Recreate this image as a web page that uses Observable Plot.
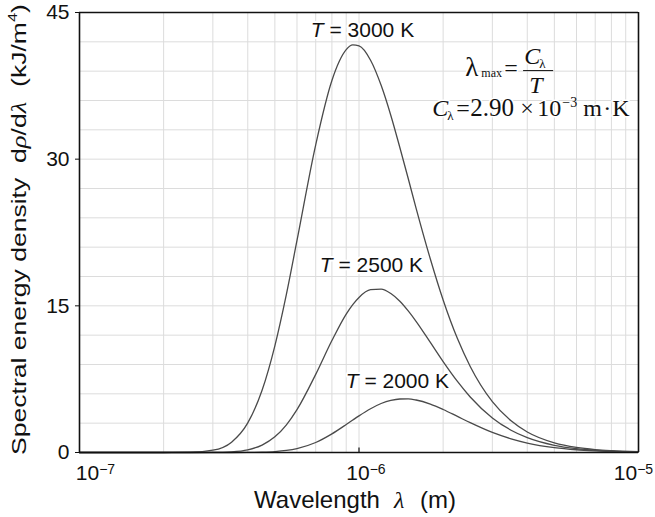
<!DOCTYPE html>
<html>
<head>
<meta charset="utf-8">
<script src="https://cdn.jsdelivr.net/npm/d3@7"></script>
<script src="https://cdn.jsdelivr.net/npm/@observablehq/plot@0.6"></script>
<style>
  body { margin: 0; background: #fff; }
  #chart svg { display: block; }
</style>
</head>
<body>
<div id="chart"></div>
<script>
// Wavelengths in micrometres
const wavelengthsMicron = [0.1, 0.2, 0.25, 0.3, 0.35, 0.4, 0.45, 0.5, 0.55, 0.6, 0.7, 0.8, 0.9, 0.95, 1.0,
  1.1, 1.2, 1.3, 1.4, 1.5, 1.6, 1.8, 2.0, 2.25, 2.5, 3.0, 3.5, 4.0, 5.0, 6.0, 7.0, 8.0, 10.0];

// Spectral energy density dρ/dλ in kJ/m^4
const density3000 = [0, 0.001, 0.024, 0.234, 1.06, 3.03, 6.36, 10.91, 16.20, 21.69, 31.47, 38.05, 41.20, 41.68, 41.59,
  40.12, 37.55, 34.47, 31.19, 28.02, 25.00, 19.79, 15.60, 11.65, 8.80, 5.20, 3.24, 2.10, 0.99, 0.52, 0.30, 0.19, 0.08];
const density2500 = [0, 0, 0.0005, 0.0096, 0.069, 0.27, 0.76, 1.60, 2.83, 4.38, 7.99, 11.45, 14.16, 15.13, 15.86,
  16.65, 16.71, 16.26, 15.47, 14.48, 13.42, 11.26, 9.30, 7.27, 5.68, 3.54, 2.28, 1.52, 0.74, 0.40, 0.23, 0.14, 0.06];
const density2000 = [0, 0, 0, 0.0001, 0.001, 0.0075, 0.031, 0.090, 0.207, 0.398, 1.02, 1.90, 2.86, 3.32, 3.75,
  4.48, 5.01, 5.33, 5.47, 5.48, 5.37, 4.95, 4.40, 3.69, 3.05, 2.05, 1.40, 0.97, 0.50, 0.28, 0.17, 0.10, 0.05];

const temperatures = [3000, 2500, 2000];
const curveLabels = ["T = 3000 K", "T = 2500 K", "T = 2000 K"];
const yTicks = [0, 15, 30, 45];
const xTicks = [1e-7, 1e-6, 1e-5];
const xTickLabels = ["10^−7", "10^−6", "10^−5"];

const ink = "#111";
const curveInk = "#4a4a4a";
const gridInk = "#dcdcdc";
const sans = "'Liberation Sans', Arial, sans-serif";
const serif = "'Liberation Serif', 'Times New Roman', serif";

const rows = [density3000, density2500, density2000].flatMap((values, k) =>
  values.map((u, i) => ({lambda: wavelengthsMicron[i] * 1e-6, u, T: temperatures[k]})));

// log grid: 1..9 × each decade, every 3 kJ/m^4 vertically
const xGrid = [-7, -6].flatMap(e => d3.range(1, 10).map(m => m * 10 ** e)).filter(v => v > 1e-7);
const yGrid = d3.range(3, 45, 3);

// horizontal nudges of the decade labels
const xLabelShift = [16, 7, -5];

// Wien's law block, anchored at the baseline of its second line;
// full-size glyphs get a thin white halo, sub/superscripts none
const formulaAt = [{x: 1.83e-6, y: 34.46}];
const formulaPieces = [
  {t: "λ", dx: 33, dy: -40, size: 27},
  {t: "=", dx: 72, dy: -40, size: 24},
  {t: "C", dx: 92, dy: -52, size: 24, italic: true},
  {t: "T", dx: 97, dy: -23, size: 24, italic: true},
  {t: "C", dx: 0, dy: 0, size: 24, italic: true},
  {t: "=", dx: 24, dy: 0, size: 24},
  {t: "2.90", dx: 38, dy: 0, size: 25},
  {t: "×", dx: 88, dy: 0, size: 24},
  {t: "10", dx: 105, dy: 0, size: 24},
  {t: "m", dx: 151, dy: 0, size: 24},
  {t: "·", dx: 171, dy: 0, size: 24},
  {t: "K", dx: 180, dy: 0, size: 24},
  {t: "max", dx: 49, dy: -39, size: 12, small: true},
  {t: "λ", dx: 107, dy: -48, size: 13, small: true},
  {t: "λ", dx: 15, dy: 4, size: 13, small: true},
  {t: "−3", dx: 130, dy: -9, size: 14, small: true}
];
const formulaText = (p) => Plot.text(formulaAt, {
  x: "x", y: "y", text: () => p.t, dx: p.dx, dy: p.dy,
  fontSize: p.size, fontFamily: serif, fontStyle: p.italic ? "italic" : "normal",
  textAnchor: "start", lineAnchor: "bottom",
  fill: ink, stroke: p.small ? "none" : "#fff", strokeWidth: p.small ? 0 : 3
});

const yTitle = "Spectral energy density dρ/dλ (kJ/m4)";
const xTitle = "Wavelength λ (m)";

const chart = Plot.plot({
  width: 655,
  height: 517,
  marginLeft: 79,
  marginRight: 17,
  marginTop: 12,
  marginBottom: 65,
  x: {type: "log", domain: [1e-7, 1e-5], label: null},
  y: {domain: [0, 45], label: null},
  style: {fontFamily: sans, fontSize: "21px", background: "#fff", color: ink},
  marks: [
    Plot.ruleX(xGrid, {stroke: gridInk, strokeWidth: 1}),
    Plot.ruleY(yGrid, {stroke: gridInk, strokeWidth: 1}),
    ...formulaPieces.map(formulaText),
    Plot.ruleY([39.06], {x1: 3.88e-6, x2: 4.97e-6, stroke: ink, strokeWidth: 1}),
    // curve labels
    Plot.text(curveLabels, {
      x: [1.029e-6, 1.108e-6, 1.372e-6], y: [43.2, 19.2, 7.3], text: d => d,
      fontSize: 21, fill: ink, stroke: "#fff", strokeWidth: 4
    }),
    Plot.line(rows, {x: "lambda", y: "u", z: "T", stroke: curveInk, strokeWidth: 1.3, curve: "monotone-x"}),
    // frame
    Plot.ruleX([1e-7, 1e-5], {stroke: ink, strokeWidth: 1.6}),
    Plot.ruleY([0, 45], {stroke: ink, strokeWidth: 1.6}),
    Plot.ruleX([1e-6], {y1: 0, y2: 0.45, stroke: ink, strokeWidth: 1.2}),
    Plot.axisY(yTicks, {tickSize: 4, tickPadding: 6, fontSize: 21, label: null}),
    ...xTicks.map((t, i) => Plot.axisX([t], {
      tickSize: 0, tickPadding: 13, dx: xLabelShift[i], fontSize: 21, label: null,
      tickFormat: () => xTickLabels[i]
    })),
    // axis titles
    Plot.text([xTitle], {frameAnchor: "bottom", textAnchor: "middle", dy: 55, dx: -4, lineAnchor: "bottom", fontSize: 24, fill: ink}),
    Plot.text([yTitle], {frameAnchor: "left", textAnchor: "middle", rotate: -90, dx: -54, dy: -3, lineAnchor: "bottom", fontSize: 21, fill: ink})
  ]
});

document.getElementById("chart").appendChild(chart);

// rich text: italics, subscripts and superscripts
const svg = d3.select(chart);
function rebuild(node, parts) {
  const sel = d3.select(node);
  sel.text(null);
  for (const p of parts) {
    const ts = sel.append("tspan").text(p.t);
    for (const [k, v] of Object.entries(p)) if (k !== "t") ts.attr(k, v);
  }
  return sel;
}
svg.selectAll("text").each(function() {
  const s = this.textContent;
  if (s.startsWith("10^")) {
    rebuild(this, [{t: "10"}, {t: s.slice(3), "font-size": 14, dy: "-0.45em"}]);
  } else if (/^T = \d+ K$/.test(s)) {
    rebuild(this, [{t: "T", "font-style": "italic"}, {t: s.slice(1)}]);
  } else if (s === xTitle) {
    rebuild(this, [
      {t: "Wavelength"},
      {t: " λ", dx: 8, "font-family": serif, "font-style": "italic"},
      {t: " (m)", dx: 9}
    ]);
  } else if (s === yTitle) {
    rebuild(this, [
      {t: "Spectral energy density"},
      {t: " d", dx: 6},
      {t: "ρ", "font-family": serif, "font-style": "italic"},
      {t: "/d"},
      {t: "λ", "font-family": serif, "font-style": "italic"},
      {t: " (kJ/m", dx: 6},
      {t: "4", "font-size": 13, dy: -9},
      {t: ")", dy: 9}
    ]);
    // stretch the title along its length so it spans the plot height
    const natural = this.getComputedTextLength();
    const stretch = 436 / natural;
    this.setAttribute("transform", (this.getAttribute("transform") || "") + ` scale(${stretch},1)`);
  }
});
</script>
</body>
</html>
